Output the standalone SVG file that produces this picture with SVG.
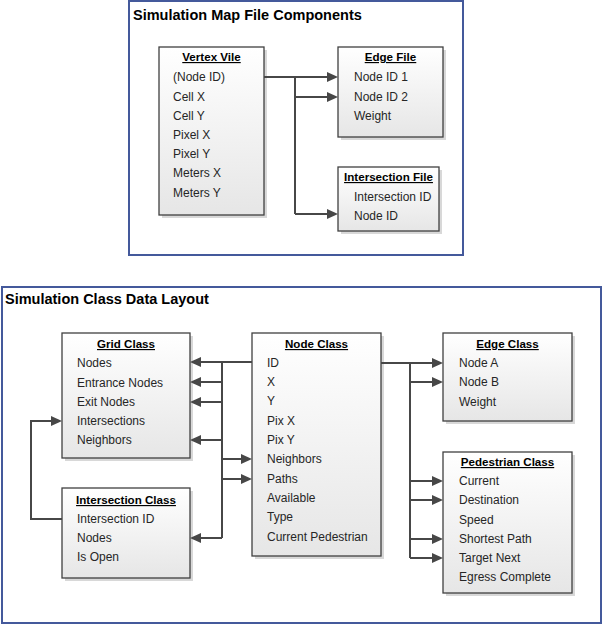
<svg xmlns="http://www.w3.org/2000/svg" width="603" height="625" viewBox="0 0 603 625">
<style>
text{font-family:"Liberation Sans",Arial,sans-serif;font-size:12px;fill:#262626}
.title{font-size:14.5px;font-weight:bold;fill:#000}
.hd{font-size:11.6px;font-weight:bold;text-decoration:underline;text-anchor:middle;fill:#000}
.box{fill:url(#g);stroke:#404040;stroke-width:1.3}
.sh{fill:#c8c8c8;opacity:0.7}
.frame{fill:#fff;stroke:#44599b;stroke-width:2}
.con path{fill:none;stroke:#474747;stroke-width:2}
.con .a{marker-end:url(#ah)}
</style>
<defs>
<linearGradient id="g" x1="0" y1="0" x2="0" y2="1">
<stop offset="0" stop-color="#ffffff"/>
<stop offset="1" stop-color="#e6e6e6"/>
</linearGradient>
<marker id="ah" markerUnits="userSpaceOnUse" markerWidth="13" markerHeight="12" refX="3" refY="5" orient="auto">
<path d="M0,0 L11,5 L0,10 z" fill="#474747"/>
</marker>
</defs>
<rect width="603" height="625" fill="#fff"/>
<g id="frame-top">
<rect class="frame" x="129" y="1" width="334" height="254"/>
<text class="title" x="133" y="20">Simulation Map File Components</text>
</g>
<g id="frame-bottom">
<rect class="frame" x="2" y="287" width="599" height="336"/>
<text class="title" x="5" y="304">Simulation Class Data Layout</text>
</g>
<g id="vertex-vile">
<rect class="sh" x="162" y="50" width="105" height="168"/>
<rect class="box" x="159" y="47" width="105" height="168"/>
<text class="hd" x="211.5" y="61">Vertex Vile</text>
<text x="173" y="81">(Node ID)</text>
<text x="173" y="101">Cell X</text>
<text x="173" y="120">Cell Y</text>
<text x="173" y="139">Pixel X</text>
<text x="173" y="158">Pixel Y</text>
<text x="173" y="177">Meters X</text>
<text x="173" y="197">Meters Y</text>
</g>
<g id="edge-file">
<rect class="sh" x="341" y="50" width="105" height="90"/>
<rect class="box" x="338" y="47" width="105" height="90"/>
<text class="hd" x="390.5" y="61">Edge File</text>
<text x="354" y="81">Node ID 1</text>
<text x="354" y="101">Node ID 2</text>
<text x="354" y="120">Weight</text>
</g>
<g id="intersection-file">
<rect class="sh" x="341" y="170" width="101" height="64"/>
<rect class="box" x="338" y="167" width="101" height="64"/>
<text class="hd" x="388.5" y="181">Intersection File</text>
<text x="354" y="201">Intersection ID</text>
<text x="354" y="220">Node ID</text>
</g>
<g id="grid-class">
<rect class="sh" x="65" y="336" width="128" height="125"/>
<rect class="box" x="62" y="333" width="128" height="125"/>
<text class="hd" x="126" y="348">Grid Class</text>
<text x="77" y="367">Nodes</text>
<text x="77" y="387">Entrance Nodes</text>
<text x="77" y="406">Exit Nodes</text>
<text x="77" y="425">Intersections</text>
<text x="77" y="444">Neighbors</text>
</g>
<g id="intersection-class">
<rect class="sh" x="65" y="491" width="128" height="90"/>
<rect class="box" x="62" y="488" width="128" height="90"/>
<text class="hd" x="126" y="504">Intersection Class</text>
<text x="77" y="523">Intersection ID</text>
<text x="77" y="542">Nodes</text>
<text x="77" y="561">Is Open</text>
</g>
<g id="node-class">
<rect class="sh" x="255" y="336" width="129" height="223"/>
<rect class="box" x="252" y="333" width="129" height="223"/>
<text class="hd" x="316.5" y="348">Node Class</text>
<text x="267" y="367">ID</text>
<text x="267" y="386">X</text>
<text x="267" y="405">Y</text>
<text x="267" y="425">Pix X</text>
<text x="267" y="444">Pix Y</text>
<text x="267" y="463">Neighbors</text>
<text x="267" y="483">Paths</text>
<text x="267" y="502">Available</text>
<text x="267" y="521">Type</text>
<text x="267" y="541">Current Pedestrian</text>
</g>
<g id="edge-class">
<rect class="sh" x="446" y="336" width="129" height="88"/>
<rect class="box" x="443" y="333" width="129" height="88"/>
<text class="hd" x="507.5" y="348">Edge Class</text>
<text x="459" y="367">Node A</text>
<text x="459" y="386">Node B</text>
<text x="459" y="406">Weight</text>
</g>
<g id="pedestrian-class">
<rect class="sh" x="446" y="455" width="129" height="141"/>
<rect class="box" x="443" y="452" width="129" height="141"/>
<text class="hd" x="507.5" y="466">Pedestrian Class</text>
<text x="459" y="485">Current</text>
<text x="459" y="504">Destination</text>
<text x="459" y="524">Speed</text>
<text x="459" y="543">Shortest Path</text>
<text x="459" y="562">Target Next</text>
<text x="459" y="581">Egress Complete</text>
</g>
<g id="connectors" class="con">
<path class="a" d="M264,77 H330"/>
<path d="M295,77 V214"/>
<path class="a" d="M295,97 H330"/>
<path class="a" d="M295,214 H330"/>
<path d="M252,362 H222"/>
<path class="a" d="M222,362 H198"/>
<path d="M222,362 V538"/>
<path class="a" d="M222,382 H198"/>
<path class="a" d="M222,402 H198"/>
<path class="a" d="M222,440 H198"/>
<path class="a" d="M222,538 H198"/>
<path class="a" d="M222,459 H244"/>
<path class="a" d="M222,479 H244"/>
<path class="a" d="M62,519 H31 V421 H54"/>
<path class="a" d="M381,363 H435"/>
<path d="M410,363 V558"/>
<path class="a" d="M410,382 H435"/>
<path class="a" d="M410,481 H435"/>
<path class="a" d="M410,500 H435"/>
<path class="a" d="M410,539 H435"/>
<path class="a" d="M410,558 H435"/>
</g>
</svg>
